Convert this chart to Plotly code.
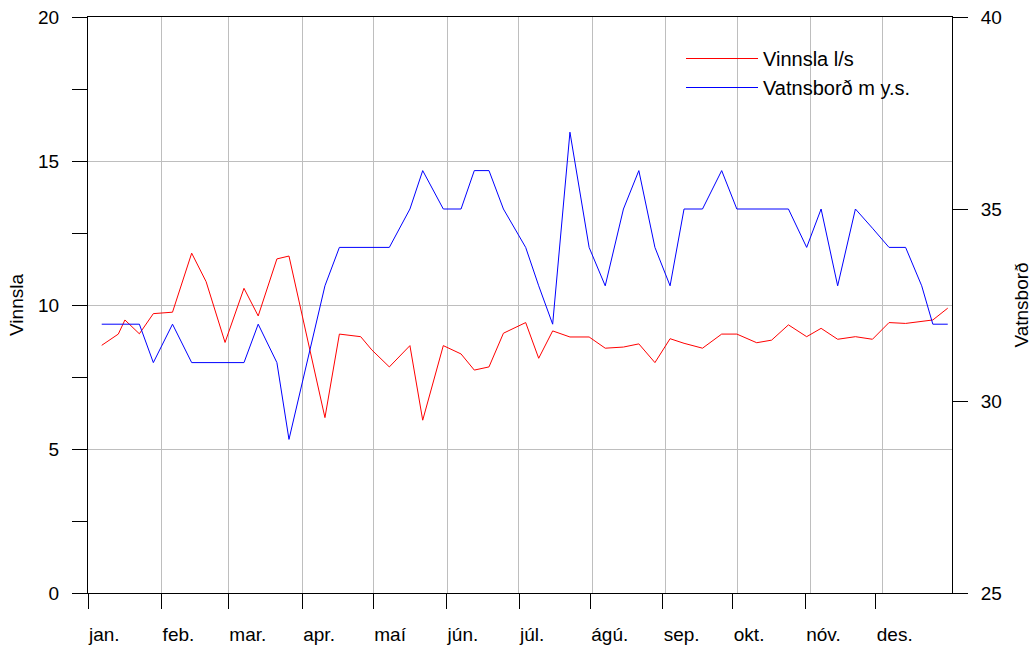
import plotly.graph_objects as go

# Day of year (0 = 1 January) of each observation
day = [5.8, 12.8, 15.6, 21.7, 27.6, 35.7, 43.8, 49.9, 57.9, 65.9, 71.9, 79.8, 84.9,
       100.1, 106.2, 115.2, 119.9, 127.3, 136.0, 141.4, 150.1, 157.6, 163.2, 169.4, 175.5,
       184.9, 190.4, 196.3, 203.6, 211.7, 218.5, 226.2, 232.7, 239.5, 245.9, 251.8, 259.6,
       267.7, 274.1, 282.5, 288.8, 295.9, 303.6, 309.7, 316.7, 324.2, 331.4, 338.4, 345.4,
       352.2, 356.9, 363.2]

vinnsla = [8.6, 8.99, 9.48, 9.0, 9.70, 9.75, 11.8, 10.81, 8.70, 10.58, 9.62, 11.6, 11.7,
           6.09, 8.99, 8.90, 8.44, 7.85, 8.59, 6.0, 8.59, 8.30, 7.74, 7.85, 9.02,
           9.39, 8.15, 9.10, 8.89, 8.89, 8.50, 8.54, 8.65, 8.0, 8.83, 8.67, 8.50,
           8.99, 8.99, 8.69, 8.78, 9.31, 8.90, 9.19, 8.81, 8.90, 8.81, 9.39, 9.36,
           9.42, 9.48, 9.89]

vatnsbord = [32, 32, 32, 32, 31, 32, 31, 31, 31, 31, 32, 31, 29,
             33, 34, 34, 34, 34, 35, 36, 35, 35, 36, 36, 35,
             34, 33, 32, 37, 34, 33, 35, 36, 34, 33, 35, 35,
             36, 35, 35, 35, 35, 34, 35, 33, 35, 34.5, 34, 34,
             33, 32, 32]

month_labels = ["jan.", "feb.", "mar.", "apr.", "maí", "jún.",
                "júl.", "ágú.", "sep.", "okt.", "nóv.", "des."]
month_tick_days = [0, 31.1, 59.3, 90.5, 120.5, 151.5, 182.1, 212.2, 242.8, 272.4, 303.0, 332.8]
month_grid_days = [31.1, 59.3, 90.5, 120.5, 151.7, 181.8, 213.0, 244.1, 274.3, 305.3, 335.6]

left_major = [0, 5, 10, 15, 20]
left_minor = [2.5, 7.5, 12.5, 17.5]
right_ticks = [25, 30, 35, 40]

FONT = "Liberation Sans, Arial, sans-serif"
FS = 19

fig = go.Figure()
fig.add_trace(go.Scatter(x=day, y=vinnsla, mode="lines", name="Vinnsla l/s",
                         line=dict(color="#ff0000", width=1), yaxis="y"))
fig.add_trace(go.Scatter(x=day, y=vatnsbord, mode="lines", name="Vatnsborð m y.s.",
                         line=dict(color="#0000ff", width=1), yaxis="y2"))

# white background behind legend (covers gridlines, not traces)
fig.add_shape(type="rect", xref="paper", yref="paper", x0=(665 - 88) / 864, x1=1.0,
              y0=(593 - 114) / 576, y1=(593 - 34) / 576,
              fillcolor="white", line=dict(width=0), layer="between")

fig.update_layout(
    width=1032, height=646,
    margin=dict(l=88, r=80, t=17, b=53, autoexpand=False),
    paper_bgcolor="white", plot_bgcolor="white",
    font=dict(family=FONT, size=FS, color="black"),
    showlegend=True,
    legend=dict(x=(681 - 88) / 864, y=(593 - 39) / 576, xanchor="left", yanchor="top",
                bgcolor="rgba(0,0,0,0)", borderwidth=0, itemwidth=72,
                font=dict(family=FONT, size=20, color="black")),
    xaxis=dict(
        range=[0, 365], showline=True, linecolor="black", linewidth=1, mirror=True,
        tickmode="array", tickvals=month_tick_days, ticktext=month_labels,
        ticks="outside", ticklen=15, tickcolor="black", tickwidth=1,
        ticklabelposition="outside right", ticklabelstandoff=24,
        showgrid=False, zeroline=False, automargin=False,
        minor=dict(tickvals=month_grid_days, showgrid=True, gridcolor="#bebebe",
                   gridwidth=1, ticks=""),
    ),
    yaxis=dict(
        range=[0, 20], showline=True, linecolor="black", linewidth=1,
        tickmode="array", tickvals=left_major, ticktext=[str(v) for v in left_major],
        ticks="outside", ticklen=15, tickcolor="black", tickwidth=1,
        ticklabelstandoff=9,
        showgrid=True, gridcolor="#bebebe", gridwidth=1, zeroline=False,
        minor=dict(tickvals=left_minor, ticks="outside", ticklen=15, tickcolor="black",
                   showgrid=False),
        title=dict(text="Vinnsla", standoff=9, font=dict(family=FONT, size=FS)),
        automargin=False,
    ),
    yaxis2=dict(
        range=[25, 40], overlaying="y", side="right", showline=True, linecolor="black",
        linewidth=1, tickmode="array", tickvals=right_ticks,
        ticktext=[str(v) for v in right_ticks],
        ticks="outside", ticklen=15, tickcolor="black", tickwidth=1,
        ticklabelstandoff=9, showgrid=False, zeroline=False,
        title=dict(text="Vatnsborð", standoff=20, font=dict(family=FONT, size=FS)),
        automargin=False,
    ),
)

fig.write_html("out.html", config={"displayModeBar": False},
               post_script="document.body.style.margin='0';document.body.style.padding='0';")
